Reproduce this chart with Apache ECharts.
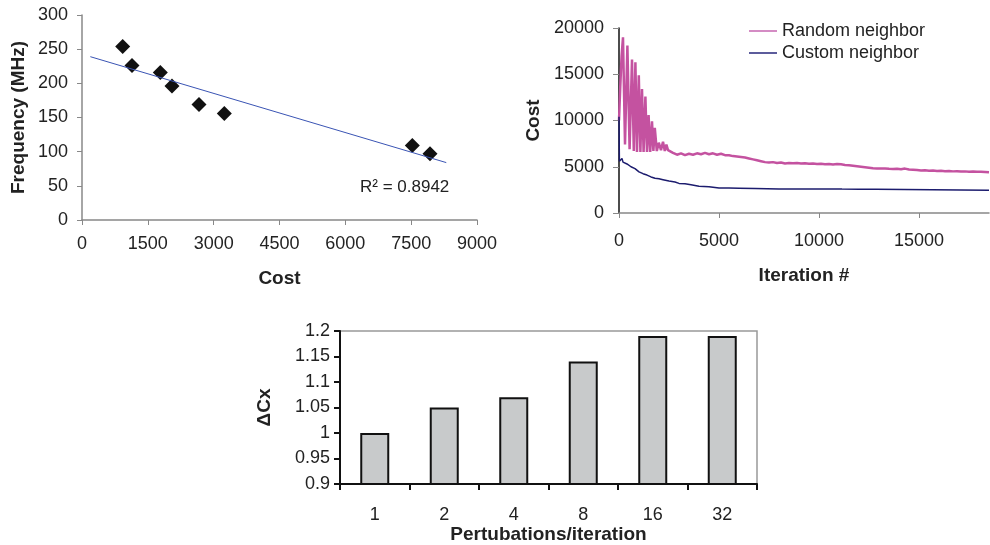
<!DOCTYPE html>
<html>
<head>
<meta charset="UTF-8">
<title>Cost charts</title>
<script src="https://cdn.jsdelivr.net/npm/echarts@6/dist/echarts.min.js"></script>
<style>
  html, body { margin: 0; padding: 0; background: #fff; }
  #main { width: 990px; height: 545px; }
</style>
</head>
<body>
<div id="main"></div>
<script>
// scatter: cost vs frequency
var scatCost = [927, 1139, 1785, 2050, 2666, 3243, 7526, 7929];
var scatFreq = [254, 226, 216, 196, 169, 156, 109, 97];
// trend line ends
var trendCost = [190, 8300];
var trendFreq = [239, 84];

// cost over iterations
var randIter = [0, 60, 130, 200, 300, 420, 530, 650, 740, 820, 900, 990, 1070, 1150, 1230, 1320, 1400, 1480, 1560, 1650, 1720, 1790, 1890, 1990, 2100, 2200, 2290, 2370, 2450, 2550, 2700, 2800, 2900, 3100, 3300, 3500, 3700, 3900, 4100, 4300, 4500, 4700, 4900, 5100, 5300, 5500, 5700, 5900, 6100, 6300, 6500, 6700, 6900, 7100, 7300, 7500, 7700, 7900, 8100, 8300, 8500, 8700, 8900, 9100, 9300, 9500, 9700, 9900, 10100, 10300, 10500, 10700, 10900, 11100, 11300, 11500, 11700, 11900, 12100, 12300, 12500, 12700, 12900, 13100, 13300, 13500, 13700, 13900, 14100, 14300, 14500, 14700, 14900, 15100, 15300, 15500, 15700, 15900, 16100, 16300, 16500, 16700, 16900, 17100, 17300, 17500, 17700, 17900, 18100, 18300, 18500];
var randCost = [10000, 13500, 17000, 19000, 7400, 18100, 6900, 16600, 6700, 16300, 6600, 14900, 6600, 13400, 6600, 12600, 6600, 10600, 6600, 9900, 6700, 9200, 6700, 7600, 6800, 7700, 6700, 7400, 6800, 6700, 6500, 6350, 6300, 6450, 6250, 6400, 6300, 6450, 6350, 6500, 6350, 6450, 6300, 6400, 6250, 6250, 6150, 6100, 6050, 6000, 5900, 5800, 5700, 5600, 5500, 5450, 5500, 5400, 5450, 5350, 5400, 5380, 5400, 5350, 5380, 5330, 5360, 5300, 5330, 5280, 5300, 5250, 5300, 5260, 5200, 5150, 5100, 5050, 5000, 4950, 4900, 4850, 4820, 4800, 4820, 4780, 4750, 4780, 4720, 4800, 4700, 4680, 4650, 4600, 4620, 4580, 4600, 4550, 4560, 4520, 4540, 4500, 4520, 4480, 4500, 4470, 4480, 4450, 4460, 4430, 4400];
var custIter = [0, 20, 60, 100, 150, 200, 250, 300, 400, 500, 600, 700, 800, 900, 1000, 1200, 1400, 1600, 1800, 2000, 2200, 2500, 2800, 3000, 3300, 3600, 4000, 4500, 5000, 5500, 6000, 6800, 6850, 8000, 8100, 8150, 9000, 9100, 9150, 10500, 11000, 11100, 11150, 12000, 12850, 12900, 18500];
var custCost = [10400, 5600, 5500, 5800, 5900, 5500, 5700, 5400, 5300, 5100, 5000, 5050, 4800, 4600, 4450, 4250, 4100, 3900, 3750, 3700, 3600, 3450, 3350, 3200, 3150, 3050, 2900, 2850, 2700, 2700, 2680, 2650, 2600, 2600, 2450, 2600, 2600, 2470, 2600, 2590, 2600, 2460, 2590, 2580, 2580, 2450, 2450];

// bars
var perturb = ['1', '2', '4', '8', '16', '32'];
var deltaCx = [1.0, 1.05, 1.07, 1.14, 1.19, 1.19];

function pairs(xs, ys) {
  var out = [];
  for (var i = 0; i < xs.length; i++) out.push([xs[i], ys[i]]);
  return out;
}
function plain(v) { return String(+v.toFixed(4)); }

var FONT = 'Liberation Sans';
function lab(extra) {
  return Object.assign({ color: '#222', fontSize: 18, fontFamily: FONT, formatter: plain }, extra);
}
var nameStyle = { color: '#222', fontSize: 19, fontWeight: 'bold', fontFamily: FONT };

var chart = echarts.init(document.getElementById('main'));

var option = {
  animation: false,
  backgroundColor: '#fff',
  textStyle: { fontFamily: FONT },
  grid: [
    { left: 82, top: 15, width: 395, height: 205 },
    { left: 619, top: 28, width: 370, height: 185 },
    { left: 340, top: 331, width: 417, height: 154, show: true, borderColor: '#999', borderWidth: 1.5 }
  ],
  legend: {
    orient: 'vertical',
    left: 744,
    top: 17,
    icon: 'rect',
    itemWidth: 28,
    itemHeight: 2,
    itemGap: 4,
    textStyle: { color: '#222', fontSize: 18, fontFamily: FONT },
    data: [
      { name: 'Random neighbor', itemStyle: { color: '#d48cc4' } },
      { name: 'Custom neighbor', itemStyle: { color: '#5c5c9c' } }
    ]
  },
  xAxis: [
    {
      gridIndex: 0, type: 'value', min: 0, max: 9000, interval: 1500,
      name: 'Cost', nameLocation: 'middle', nameGap: 49, nameTextStyle: nameStyle,
      axisLine: { lineStyle: { color: '#888', width: 1.5 } },
      axisTick: { show: true, length: 5, lineStyle: { color: '#888' } },
      axisLabel: lab({ margin: 15 }),
      splitLine: { show: false }
    },
    {
      gridIndex: 1, type: 'value', min: 0, max: 18500, interval: 5000,
      name: 'Iteration #', nameLocation: 'middle', nameGap: 53, nameTextStyle: nameStyle,
      axisLine: { lineStyle: { color: '#888', width: 1.5 } },
      axisTick: { show: true, length: 5, lineStyle: { color: '#888' } },
      axisLabel: lab({ margin: 19, showMaxLabel: false }),
      splitLine: { show: false }
    },
    {
      gridIndex: 2, type: 'category', data: perturb,
      name: 'Pertubations/iteration', nameLocation: 'middle', nameGap: 41, nameTextStyle: nameStyle,
      axisLine: { lineStyle: { color: '#111', width: 2 } },
      axisTick: { show: true, length: 6, lineStyle: { color: '#111', width: 2 } },
      axisLabel: { color: '#222', fontSize: 18, fontFamily: FONT, margin: 22 },
      splitLine: { show: false }
    }
  ],
  yAxis: [
    {
      gridIndex: 0, type: 'value', min: 0, max: 300, interval: 50,
      name: 'Frequency (MHz)', nameLocation: 'middle', nameGap: 54, nameTextStyle: nameStyle,
      axisLine: { show: true, lineStyle: { color: '#888', width: 1.5 } },
      axisTick: { show: true, length: 5, lineStyle: { color: '#888' } },
      axisLabel: lab({ margin: 14 }),
      splitLine: { show: false }
    },
    {
      gridIndex: 1, type: 'value', min: 0, max: 20000, interval: 5000,
      name: 'Cost', nameLocation: 'middle', nameGap: 76, nameTextStyle: nameStyle,
      axisLine: { show: true, lineStyle: { color: '#111', width: 1.5 } },
      axisTick: { show: true, length: 6, lineStyle: { color: '#888' } },
      axisLabel: lab({ margin: 15 }),
      splitLine: { show: false }
    },
    {
      gridIndex: 2, type: 'value', min: 0.9, max: 1.2, interval: 0.05,
      name: 'ΔCx', nameLocation: 'middle', nameGap: 66, nameTextStyle: nameStyle,
      axisLine: { show: true, lineStyle: { color: '#111', width: 2 } },
      axisTick: { show: true, length: 6, lineStyle: { color: '#111', width: 2 } },
      axisLabel: lab({ margin: 10 }),
      splitLine: { show: false }
    }
  ],
  graphic: [
    {
      type: 'text', left: 360, top: 179,
      style: { text: 'R² = 0.8942', fill: '#222', fontSize: 17, fontFamily: FONT }
    }
  ],
  series: [
    {
      type: 'line', xAxisIndex: 0, yAxisIndex: 0,
      data: pairs(trendCost, trendFreq),
      showSymbol: false, silent: true,
      lineStyle: { color: '#3a54b4', width: 1 }
    },
    {
      type: 'scatter', xAxisIndex: 0, yAxisIndex: 0,
      data: pairs(scatCost, scatFreq),
      symbol: 'diamond', symbolSize: [15, 15],
      itemStyle: { color: '#111', opacity: 1 }
    },
    {
      name: 'Random neighbor', type: 'line', xAxisIndex: 1, yAxisIndex: 1,
      data: pairs(randIter, randCost),
      showSymbol: false,
      lineStyle: { color: '#c452a0', width: 2.5 }
    },
    {
      name: 'Custom neighbor', type: 'line', xAxisIndex: 1, yAxisIndex: 1,
      data: pairs(custIter, custCost),
      showSymbol: false,
      lineStyle: { color: '#1c1c6e', width: 1.5 }
    },
    {
      type: 'bar', xAxisIndex: 2, yAxisIndex: 2,
      data: deltaCx, barWidth: 29,
      itemStyle: { color: '#c8cacb', borderColor: '#111', borderWidth: 2 }
    }
  ]
};

chart.setOption(option);
</script>
</body>
</html>
